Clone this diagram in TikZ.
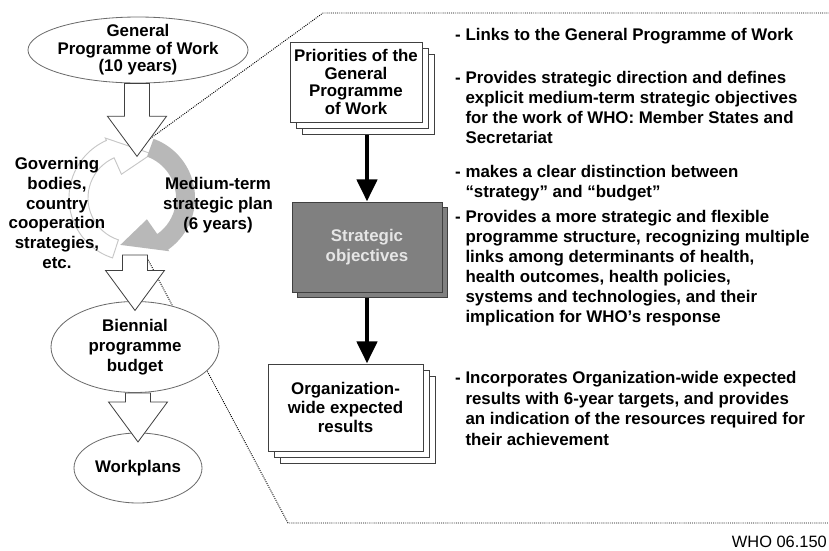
\documentclass[tikz,border=0pt]{standalone}
\usepackage{fontspec}
\setmainfont{Liberation Sans}
\usetikzlibrary{positioning,arrows.meta,shapes.geometric,shadows,backgrounds,calc}

\definecolor{ovalline}{gray}{0.42}
\definecolor{boxline}{gray}{0.25}
\definecolor{ringgray}{gray}{0.72}
\definecolor{ringline}{gray}{0.78}
\definecolor{stratfill}{gray}{0.5}
\definecolor{strattext}{gray}{0.9}

\begin{document}
\begin{tikzpicture}[
    x=0.03cm, y=-0.03cm,
    font=\fontsize{14.4}{17}\selectfont\bfseries,
    >=Stealth,
    oval/.style={
        ellipse,
        draw=ovalline,
        fill=white,
        line width=0.7pt,
        inner sep=0pt,
        align=center
    },
    stackbox/.style={
        draw=boxline,
        fill=white,
        line width=0.8pt,
        inner sep=0pt,
        align=center,
        double copy shadow={shadow xshift=5.5pt, shadow yshift=-5.5pt,
            draw=boxline, fill=white, line width=0.8pt}
    },
    stratbox/.style={
        draw=boxline,
        fill=stratfill,
        text=strattext,
        line width=0.8pt,
        inner sep=0pt,
        align=center,
        copy shadow={shadow xshift=5pt, shadow yshift=-4.5pt,
            draw=boxline, fill=stratfill, line width=0.8pt}
    },
    blockarrow/.style={
        draw=boxline,
        fill=white,
        line width=0.7pt,
        to path={let \p1=(\tikztostart), \p2=(\tikztotarget) in
            (\x2-0.375cm,\y1) -- (\x2-0.375cm,\y2+0.92cm)
            -- (\x2-0.885cm,\y2+0.92cm) -- (\x2,\y2-8pt)
            -- (\x2+0.885cm,\y2+0.92cm) -- (\x2+0.375cm,\y2+0.92cm)
            -- (\x2+0.375cm,\y1) -- cycle}
    },
    flow/.style={
        -{Triangle[width=17pt,length=19pt]},
        line width=4.2pt
    },
    zoomline/.style={
        densely dotted,
        line width=0.8pt
    },
    note/.style={
        anchor=north west,
        align=left,
        inner sep=0pt
    },
    sidetext/.style={
        align=center,
        inner sep=0pt
    }
]
\useasboundingbox (0,0) rectangle (829,550);

% Cycle of the medium-term plan
\coordinate (cyc) at (132,198);
\filldraw[draw=ringline, fill=white, line width=0.8pt]
    ([shift={(-108:1.89cm)}]cyc) arc[start angle=-108, end angle=-246, radius=1.89cm]
    -- ([shift={(114:1.97cm)}]cyc) -- ([shift={(66:1.45cm)}]cyc)
    -- ([shift={(114:0.78cm)}]cyc) -- ([shift={(114:1.32cm)}]cyc)
    arc[start angle=114, end angle=252, radius=1.32cm] -- cycle;
\fill[ringgray]
    ([shift={(70:1.89cm)}]cyc) arc[start angle=70, end angle=-55, radius=1.89cm]
    -- ([shift={(-55:1.95cm)}]cyc) -- ([shift={(-104:1.45cm)}]cyc)
    -- ([shift={(-55:0.78cm)}]cyc) -- ([shift={(-55:1.32cm)}]cyc)
    arc[start angle=-55, end angle=70, radius=1.32cm] -- cycle;
\coordinate (cyctop) at (137,147);
\coordinate (cycbot) at (135,255);

% Left column
\node[oval, minimum width=6.6cm, minimum height=1.98cm, inner xsep=-8pt, inner ysep=-4pt,
    font=\fontsize{14.4}{15}\selectfont\bfseries] (gpw) at (138,50)
    {General\\Programme of Work\\(10 years)};
\node[oval, minimum width=5.04cm, minimum height=2.73cm] (bud) at (135,347)
    {Biennial\\programme\\budget};
\node[oval, minimum width=3.84cm, minimum height=2.1cm] (work) at (138,468) {Workplans};

\node[sidetext] (govern) at (57,213)
    {Governing\\bodies,\\country\\cooperation\\strategies,\\etc.};
\node[sidetext] (mtsp) at (218,205) {Medium-term\\strategic plan\\(6 years)};

\draw[blockarrow] (gpw.south) to (cyctop);
\draw[blockarrow] (cycbot) to (bud.north);
\draw[blockarrow] (bud.south) to (work.north);

% Zoomed panel
\coordinate (zoomtop) at (140,146);
\coordinate (zoombot) at (146,256);
\coordinate (paneltl) at (323,13);
\coordinate (paneltr) at (829,13);
\coordinate (panelbl) at (288,523);
\coordinate (panelbr) at (829,523);
\begin{scope}[on background layer]
    \draw[zoomline] (zoomtop) -- (paneltl) -- (paneltr);
    \draw[zoomline] (zoombot) -- (panelbl) -- (panelbr);
\end{scope}

\node[stackbox, minimum width=3.96cm, minimum height=2.4cm,
    font=\fontsize{14.4}{15}\selectfont\bfseries] (prio) at (356,82)
    {Priorities of the\\General\\Programme\\of Work};
\node[stratbox, minimum width=4.5cm, minimum height=2.7cm] (strat) at (367,247)
    {Strategic\\objectives};
\node[stackbox, minimum width=4.65cm, minimum height=2.61cm,
    font=\fontsize{14.4}{16}\selectfont\bfseries] (org) at (345.5,407.5)
    {Organization-\\wide expected\\results};

\coordinate (prioend) at ([yshift=-11pt]prio.south);
\coordinate (stratend) at ([yshift=-4.5pt]strat.south);
\draw[flow] (prioend -| strat.north) -- (strat.north);
\draw[flow] (stratend -| strat.north) -- (org.north -| strat.north);

% Notes
\node[note] (n1) at (455,28) {- Links to the General Programme of Work};
\node[note] (n2) at (455,71) {- Provides strategic direction and defines\\
    \phantom{- }explicit medium-term strategic objectives\\
    \phantom{- }for the work of WHO: Member States and\\
    \phantom{- }Secretariat};
\node[note] (n3) at (455,165) {- makes a clear distinction between\\
    \phantom{- }“strategy” and “budget”};
\node[note] (n4) at (455,210) {- Provides a more strategic and flexible\\
    \phantom{- }programme structure, recognizing multiple\\
    \phantom{- }links among determinants of health,\\
    \phantom{- }health outcomes, health policies,\\
    \phantom{- }systems and technologies, and their\\
    \phantom{- }implication for WHO’s response};
\node[note, font=\fontsize{14.4}{17.6}\selectfont\bfseries] (n5) at (455,371)
    {- Incorporates Organization-wide expected\\
    \phantom{- }results with 6-year targets, and provides\\
    \phantom{- }an indication of the resources required for\\
    \phantom{- }their achievement};

\node[anchor=base east, inner sep=0pt, font=\fontsize{14}{16}\selectfont] (code) at (827,547)
    {WHO 06.150};

\end{tikzpicture}
\end{document}
